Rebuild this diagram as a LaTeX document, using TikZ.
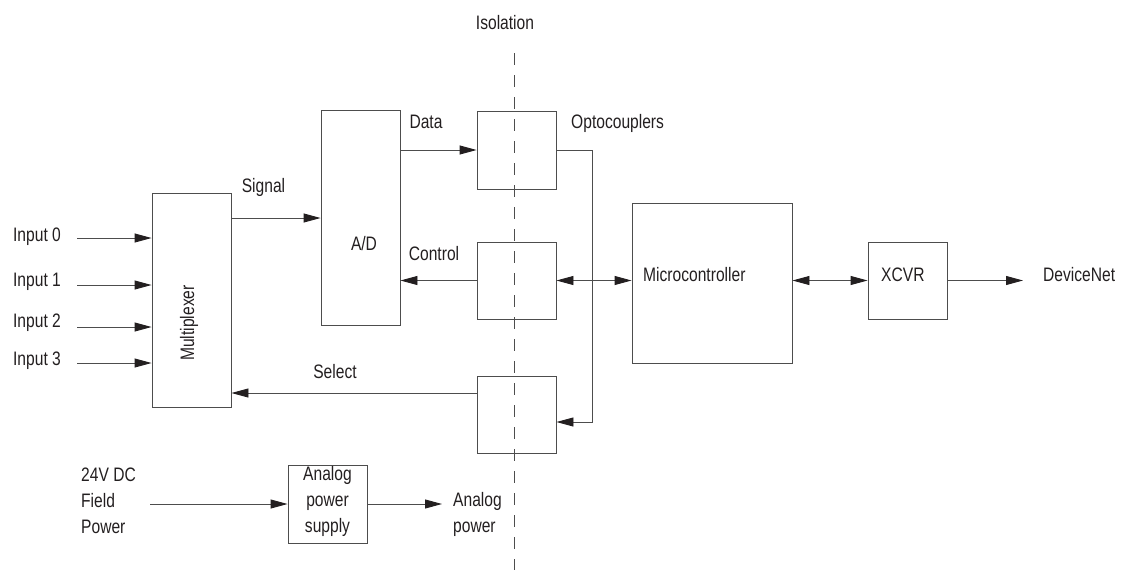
\documentclass[tikz,border=0pt]{standalone}
\usepackage{fontspec}
\setmainfont{Liberation Sans}[FakeStretch=0.8]
\usetikzlibrary{arrows.meta}
\definecolor{lc}{HTML}{4D4D4D}
\definecolor{tc}{HTML}{231F20}
\tikzset{
  blk/.style={draw=lc, line width=0.9pt, inner sep=0pt},
  lbl/.style={text=tc, font=\fontsize{19.5}{26}\selectfont, inner sep=0pt},
  wire/.style={draw=lc, line width=0.9pt},
  tip/.style={},
  arr/.style={wire, -{Triangle[length=17pt,width=9pt,color=tc]}},
  darr/.style={wire, {Triangle[length=17pt,width=9pt,color=tc]}-{Triangle[length=17pt,width=9pt,color=tc]}},
  isol/.style={draw=lc, line width=0.9pt, dash pattern=on 12pt off 10pt}
}
\begin{document}
\begin{tikzpicture}[x=1pt,y=-1pt]
\useasboundingbox (0,0) rectangle (1121,570);
% isolation line
\node[lbl] (iso) at (505,23) {Isolation};
\coordinate (isotop) at (514,53);
\coordinate (isobot) at (514,570);
\draw[isol] (isotop) -- (isobot);
% blocks
\node[blk, minimum width=79pt, minimum height=214pt] (mux) at (191.5,300) {};
\node[lbl, rotate=90] (muxt) at (189,323) {Multiplexer};
\node[blk, minimum width=79pt, minimum height=215pt] (ad) at (360.5,217.5) {};
\node[lbl] (adt) at (364,244) {A/D};
\node[blk, minimum width=79pt, minimum height=78pt] (op1) at (516.5,150) {};
\node[blk, minimum width=79pt, minimum height=77pt] (op2) at (516.5,280.5) {};
\node[blk, minimum width=79pt, minimum height=77pt] (op3) at (516.5,414.5) {};
\node[blk, minimum width=160pt, minimum height=160pt] (mc) at (712,283) {};
\node[lbl, anchor=west] (mct) at (643,275) {Microcontroller};
\node[blk, minimum width=79pt, minimum height=77pt] (xc) at (907.5,280.5) {};
\node[lbl, anchor=west] (xct) at (881,275) {XCVR};
\node[blk, minimum width=79pt, minimum height=78pt] (aps) at (327.5,504) {};
\node[lbl, align=center] (apst) at (327.5,501) {Analog\\power\\supply};
% labels
\node[lbl] (in0) at (37,237) {Input 0};
\node[lbl] (in1) at (37,282) {Input 1};
\node[lbl] (in2) at (37,322.5) {Input 2};
\node[lbl] (in3) at (37,361) {Input 3};
\node[lbl] (sigt) at (263.5,187) {Signal};
\node[lbl] (datat) at (426,122) {Data};
\node[lbl] (ctlt) at (434,254) {Control};
\node[lbl, anchor=west] (optt) at (571,123) {Optocouplers};
\node[lbl] (selt) at (335,372) {Select};
\node[lbl, anchor=west] (dnt) at (1043,275) {DeviceNet};
\node[lbl, anchor=west, align=left] (fpt) at (81,501) {24V DC\\Field\\Power};
\node[lbl, anchor=west, align=left] (apt) at (453,514) {Analog\\power};
% input arrows
\coordinate (i0) at (77,238);
\coordinate (i1) at (77,285);
\coordinate (i2) at (77,327);
\coordinate (i3) at (77,363);
\draw[arr] (i0) -- (i0 -| mux.west);
\draw[arr] (i1) -- (i1 -| mux.west);
\draw[arr] (i2) -- (i2 -| mux.west);
\draw[arr] (i3) -- (i3 -| mux.west);
% signal
\coordinate (sig) at (0,218);
\draw[arr] (mux.east |- sig) -- (ad.west |- sig);
% data
\draw[arr] (ad.east |- op1.west) -- (op1.west);
% control
\draw[arr] (op2.west) -- (ad.east |- op2.west);
% select
\coordinate (sel) at (0,393);
\draw[arr] (op3.west |- sel) -- (mux.east |- sel);
% bus
\coordinate (bus) at (592,422);
\draw[arr] (op1.east) -| (bus) -- (op3.east |- bus);
\draw[darr] (op2.east) -- (mc.west |- op2.east);
% micro to xcvr
\draw[darr] (mc.east |- xc.west) -- (xc.west);
\coordinate (dn) at (1023,280.5);
\draw[arr] (xc.east) -- (dn);
% power
\coordinate (pin) at (150,504);
\coordinate (pout) at (442,504);
\draw[arr] (pin) -- (aps.west);
\draw[arr] (aps.east) -- (pout);
\end{tikzpicture}
\end{document}
